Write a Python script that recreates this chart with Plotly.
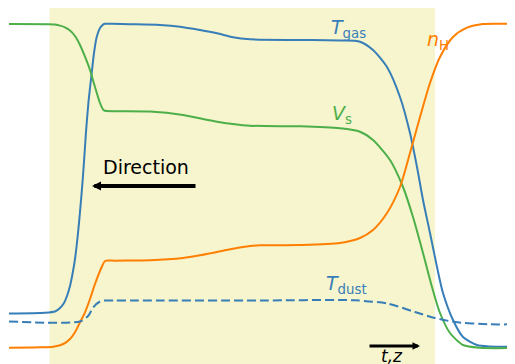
import plotly.graph_objects as go

# Schematic shock profile (arbitrary units): position along flow vs. normalized level
tgas_x = [9, 45, 55, 60, 64, 67, 70, 72.5, 75, 77.7, 80, 83, 86, 88.3, 90, 91.7, 94, 96.7, 100, 103.3, 105,
          112, 130, 160, 180, 200, 217, 233, 250, 300, 340, 360, 373, 387, 400, 410, 417, 423, 430, 437, 443, 453,
          463, 477, 490, 515]
tgas_y = [50.5, 51.2, 52.5, 56, 61, 68, 78, 90, 105, 128, 152, 188, 232, 260, 276, 291, 311, 327, 336, 339.7, 340.3,
          340.2, 339.8, 339, 337.3, 334, 330.7, 326.7, 324.7, 324, 323.5, 322.3, 314, 297, 267, 231, 197, 164, 131, 97,
          71, 44, 27, 19, 17.5, 17.3]

vs_x = [9, 50, 55, 60, 65, 70, 75, 80, 85, 90, 95, 100, 103.3, 105, 115, 150, 183, 217, 250, 300, 340, 360, 373,
        390, 403, 413, 423, 432, 440, 450, 463, 480, 515]
vs_y = [340, 339.8, 339.4, 338.4, 336.7, 333.5, 328, 319, 307.3, 294, 277, 261, 254.2, 253.2, 252.8, 252.4, 249,
        242.3, 238.3, 237.7, 235.7, 232.3, 224, 204, 177, 147, 111, 77, 51, 31, 19, 16.2, 16]

nh_x = [9, 40, 53.3, 63.3, 70, 75, 80, 85, 90, 95, 101.7, 105, 115, 150, 183, 200, 217, 233, 250, 260, 300, 340, 360,
        373, 387, 400, 410, 420, 430, 440, 453, 467, 483, 515]
nh_y = [16.3, 16.7, 17.3, 20, 25, 31.7, 41.7, 51.7, 65, 80, 97, 103, 103.3, 103.7, 106, 108.7, 112, 115.3, 118, 118.7,
        119, 121, 126, 134, 151, 177, 211, 247, 281, 307, 327, 336.3, 340, 340]

tdust_x = [9, 80, 88.3, 93.3, 100, 105, 115, 133, 260, 355, 388, 415, 435, 455, 488, 515]
tdust_y = [42.5, 42.5, 48.3, 56.7, 62.5, 63.5, 63.6, 63.5, 63.5, 63.7, 60.3, 52, 46, 42, 39.7, 39.7]

shock_zone = [49.5, 435]

BLUE = "#377eb8"
GREEN = "#4daf4a"
ORANGE = "#ff7f00"
FONT = "DejaVu Sans"

fig = go.Figure()
line_kw = dict(mode="lines", line_shape="spline", hoverinfo="skip", showlegend=False)
fig.add_trace(go.Scatter(x=tgas_x, y=tgas_y, line=dict(color=BLUE, width=2, smoothing=0.7), **line_kw))
fig.add_trace(go.Scatter(x=vs_x, y=vs_y, line=dict(color=GREEN, width=2, smoothing=0.7), **line_kw))
fig.add_trace(go.Scatter(x=nh_x, y=nh_y, line=dict(color=ORANGE, width=2, smoothing=0.7), **line_kw))
fig.add_trace(go.Scatter(x=tdust_x, y=tdust_y, line=dict(color=BLUE, width=2, dash="9px,4px", smoothing=0.7),
                         **line_kw))

fig.add_shape(type="rect", xref="x", yref="y", x0=shock_zone[0], x1=shock_zone[1], y0=-20, y1=357,
              fillcolor="rgb(247,245,205)", line_width=0, layer="below")

def label(x, y, text, color, size=19, anchor="left"):
    fig.add_annotation(x=x, y=y, xref="x", yref="y", text=text, showarrow=False, xanchor=anchor,
                       yanchor="middle", font=dict(family=FONT, size=size, color=color))

label(329, 336, "<i>T</i><sub>gas</sub>", BLUE)
label(330, 250, "<i>V</i><sub>s</sub>", GREEN)
label(425, 324, "<i>n</i><sub>H</sub>", ORANGE)
label(324, 80, "<i>T</i><sub>dust</sub>", BLUE)
label(146, 197, "Direction", "black", anchor="center")
label(392, 8, "<i>t,z</i>", "black", size=17, anchor="center")

fig.add_annotation(x=92, y=178, ax=197, ay=178, xref="x", yref="y", axref="x", ayref="y", text="",
                   showarrow=True, arrowhead=2, arrowsize=0.45, arrowwidth=4, arrowcolor="black")
fig.add_annotation(x=420, y=18, ax=368, ay=18, xref="x", yref="y", axref="x", ayref="y", text="",
                   showarrow=True, arrowhead=2, arrowsize=0.5, arrowwidth=3, arrowcolor="black")

# page body has an 8px margin, so the figure starts 8px in from the window corner
fig.update_xaxes(range=[8, 515], visible=False, showgrid=False, zeroline=False)
fig.update_yaxes(range=[0, 356], visible=False, showgrid=False, zeroline=False)
fig.update_layout(width=507, height=356, margin=dict(l=0, r=0, t=0, b=0),
                  plot_bgcolor="white", paper_bgcolor="white", font=dict(family=FONT))

fig.write_html("out.html")
